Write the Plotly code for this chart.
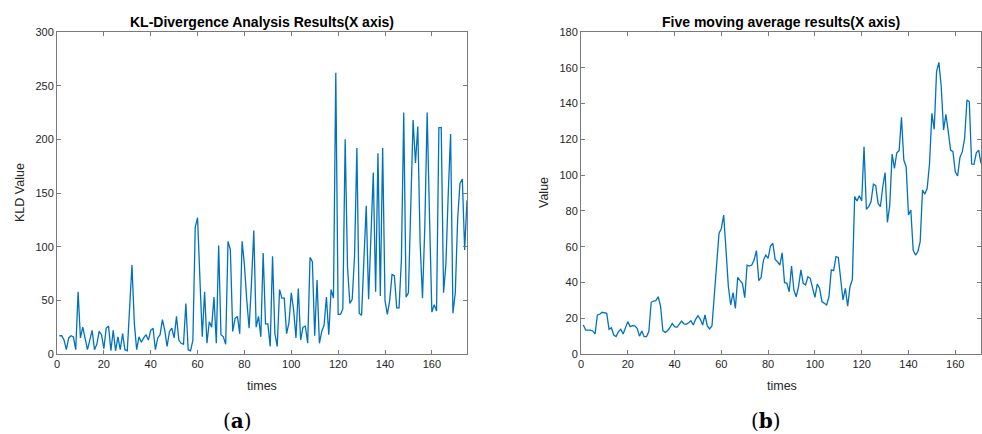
import plotly.graph_objects as go

# ---- data ----
kld_values = [
    17, 17, 13, 4, 15, 17, 16, 4, 58, 15,
    25, 13, 4, 13, 22, 4, 9, 21, 18, 5,
    24, 26, 3, 22, 3, 16, 4, 19, 4, 3,
    44, 83, 29, 4, 16, 11, 15, 18, 13, 22,
    24, 4, 15, 18, 32, 22, 7, 21, 24, 15,
    35, 13, 10, 9, 47, 4, 3, 13, 118, 127,
    70, 16, 58, 10, 30, 25, 53, 10, 101, 18,
    16, 9, 105, 97, 21, 33, 35, 19, 105, 83,
    50, 24, 66, 115, 25, 35, 16, 94, 28, 28,
    7, 91, 19, 7, 60, 52, 52, 19, 29, 57,
    41, 15, 61, 13, 25, 26, 10, 90, 86, 17,
    69, 10, 21, 27, 53, 18, 60, 52, 262, 37,
    37, 42, 200, 81, 47, 51, 91, 192, 38, 36,
    88, 138, 51, 109, 169, 58, 187, 54, 192, 50,
    37, 50, 74, 73, 43, 43, 88, 225, 53, 57,
    150, 218, 178, 212, 103, 52, 119, 225, 128, 39,
    46, 40, 211, 211, 57, 84, 150, 205, 38, 57,
    125, 159, 163, 97, 143,
]
kld_times = list(range(1, len(kld_values) + 1))

ma_values = [
    16.2, 13.4, 13.4, 13.4, 12.9, 11.2, 21.8, 22.2, 23.3, 23.1,
    22.7, 13.8, 14.7, 10.6, 9.7, 12.5, 13.8, 11.2, 14.9, 18.1,
    15.3, 15.8, 15.7, 14.3, 10.0, 12.9, 9.7, 9.7, 12.5, 28.9,
    29.6, 29.8, 32.0, 26.8, 13.0, 12.1, 13.0, 14.7, 17.1, 15.3,
    14.9, 16.6, 18.4, 16.8, 16.6, 17.5, 18.6, 16.2, 19.4, 21.4,
    19.4, 16.2, 21.8, 15.7, 14.0, 15.8, 32.0, 52.5, 67.4, 70.2,
    77.7, 58.0, 37.6, 27.4, 34.3, 25.5, 42.9, 41.0, 39.5, 31.5,
    49.7, 49.2, 49.7, 52.5, 57.8, 41.0, 42.9, 52.5, 55.3, 53.5,
    60.4, 61.9, 52.9, 51.6, 49.7, 56.6, 40.0, 39.5, 34.8, 49.2,
    35.8, 32.0, 37.6, 47.0, 39.5, 38.6, 43.2, 42.3, 37.6, 31.7,
    39.1, 36.7, 29.3, 28.3, 27.4, 32.0, 47.0, 46.6, 54.4, 54.0,
    40.4, 30.2, 36.7, 26.8, 37.6, 41.7, 88.0, 85.5, 88.5, 85.5,
    115.9, 80.9, 82.4, 85.2, 95.0, 94.1, 84.2, 82.4, 93.5, 101.4,
    73.6, 83.3, 111.8, 103.8, 112.5, 113.7, 132.3, 108.4, 104.7, 77.7,
    80.5, 58.1, 55.3, 57.2, 62.8, 91.7, 89.4, 92.6, 106.6, 134.5,
    125.6, 157.8, 163.0, 149.4, 125.2, 134.0, 124.3, 114.0, 113.1, 101.9,
    99.5, 109.9, 113.1, 120.6, 142.0, 141.0, 106.2, 106.0, 112.5, 114.0,
    106.6,
]
ma_times = list(range(1, len(ma_values) + 1))

x_ticks = [0, 20, 40, 60, 80, 100, 120, 140, 160]
kld_y_ticks = [0, 50, 100, 150, 200, 250, 300]
ma_y_ticks = [0, 20, 40, 60, 80, 100, 120, 140, 160, 180]

title_a = "KL-Divergence Analysis Results(X axis)"
title_b = "Five moving average results(X axis)"

# ---- figure ----
W, H = 982, 434
line_color = "#0072BD"
axis_color = "#7a7a7a"
tick_font = dict(family="Liberation Sans, Arial, sans-serif", size=11, color="#262626")

fig = go.Figure()
fig.add_trace(go.Scatter(x=kld_times, y=kld_values, mode="lines",
                         line=dict(color=line_color, width=1.3),
                         xaxis="x", yaxis="y", showlegend=False))
fig.add_trace(go.Scatter(x=ma_times, y=ma_values, mode="lines",
                         line=dict(color=line_color, width=1.3),
                         xaxis="x2", yaxis="y2", showlegend=False))

ydom = [(H - 354) / H, (H - 32) / H]
common_axis = dict(showline=True, linecolor=axis_color, linewidth=1, mirror="ticks",
                   ticks="inside", ticklen=4, tickcolor=axis_color, tickwidth=1,
                   showgrid=False, zeroline=False, tickfont=tick_font,
                   automargin=False)

fig.update_layout(
    width=W, height=H,
    margin=dict(l=0, r=0, t=0, b=0, autoexpand=False),
    paper_bgcolor="white", plot_bgcolor="white",
    xaxis=dict(domain=[57 / W, 467 / W], range=[0, 175], tickvals=x_ticks,
               anchor="y", **common_axis),
    yaxis=dict(domain=ydom, range=[0, 300], tickvals=kld_y_ticks,
               anchor="x", **common_axis),
    xaxis2=dict(domain=[581 / W, 981 / W], range=[0, 171], tickvals=x_ticks,
                anchor="y2", **common_axis),
    yaxis2=dict(domain=ydom, range=[0, 180], tickvals=ma_y_ticks,
                anchor="x2", **common_axis),
)

lab_font = dict(family="Liberation Sans, Arial, sans-serif", size=12.5, color="#262626")
title_font = dict(family="Liberation Sans, Arial, sans-serif", size=14, color="#000000")
ann = [
    dict(text="<b>" + title_a + "</b>", x=262 / W, y=(H - 22) / H, font=title_font),
    dict(text="<b>" + title_b + "</b>", x=781 / W, y=(H - 22) / H, font=title_font),
    dict(text="times", x=262 / W, y=(H - 386) / H, font=lab_font),
    dict(text="times", x=782 / W, y=(H - 386) / H, font=lab_font),
    dict(text="KLD Value", x=20 / W, y=(H - 193) / H, font=lab_font, textangle=-90),
    dict(text="Value", x=544 / W, y=(H - 193) / H, font=lab_font, textangle=-90),
    dict(text="(<b>a</b>)", x=237 / W, y=(H - 421) / H,
         font=dict(family="DejaVu Serif, serif", size=20, color="#000000")),
    dict(text="(<b>b</b>)", x=766 / W, y=(H - 421) / H,
         font=dict(family="DejaVu Serif, serif", size=20, color="#000000")),
]
for a in ann:
    a.update(xref="paper", yref="paper", showarrow=False, xanchor="center", yanchor="middle")
fig.update_layout(annotations=ann)

fig.write_html(
    "out.html",
    config={"displayModeBar": False},
    post_script="document.body.style.margin='0';document.body.style.overflow='hidden';",
)
